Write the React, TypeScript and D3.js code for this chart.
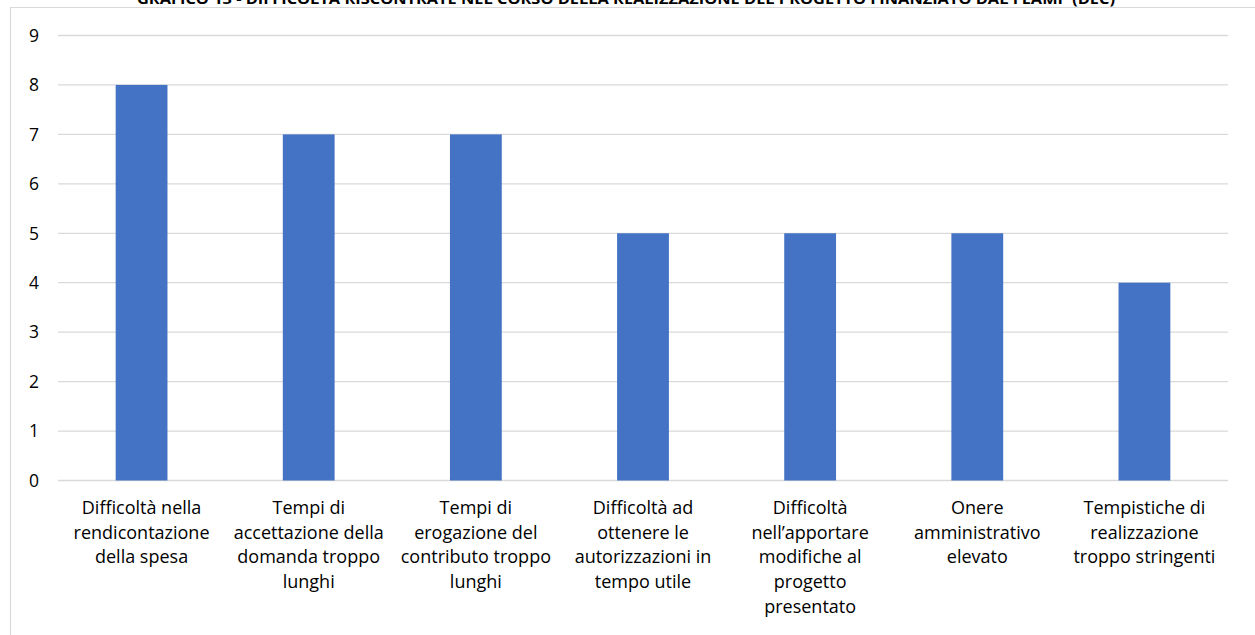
import React from "react";
import * as d3 from "d3";

const title =
  "GRAFICO 13 - DIFFICOLTÀ RISCONTRATE NEL CORSO DELLA REALIZZAZIONE DEL PROGETTO FINANZIATO DAL FEAMP (DEC)";

const categories = [
  "Difficoltà nella\nrendicontazione\ndella spesa",
  "Tempi di\naccettazione della\ndomanda troppo\nlunghi",
  "Tempi di\nerogazione del\ncontributo troppo\nlunghi",
  "Difficoltà ad\nottenere le\nautorizzazioni in\ntempo utile",
  "Difficoltà\nnell’apportare\nmodifiche al\nprogetto\npresentato",
  "Onere\namministrativo\nelevato",
  "Tempistiche di\nrealizzazione\ntroppo stringenti",
];

const values = [8, 7, 7, 5, 5, 5, 4];

const yTicks = [0, 1, 2, 3, 4, 5, 6, 7, 8, 9];

const W = 1255;
const H = 635;
const left = 58;
const right = 1228;
const top = 35.5;
const bottom = 480.5;

const FONT = "'Open Sans', Lato, sans-serif";

export default function App() {
  const x = d3
    .scaleBand<string>()
    .domain(categories)
    .range([left, right])
    .paddingInner(0.69)
    .paddingOuter(0.345);
  const y = d3.scaleLinear().domain([0, 9]).range([bottom, top]);

  return (
    <svg
      width={W}
      height={H}
      style={{ position: "absolute", left: 0, top: 0, background: "#fff" }}
    >
      <rect x={0} y={0} width={W} height={H} fill="#fff" />
      <text
        x={137}
        y={4}
        textLength={978}
        lengthAdjust="spacingAndGlyphs"
        fontFamily={FONT}
        fontWeight="bold"
        fontSize={15}
        fill="#000"
      >
        {title}
      </text>
      <path d={`M10.5,${H} V7.5 H${W}`} fill="none" stroke="#D9D9D9" strokeWidth={1.2} />
      {yTicks.map((t) => (
        <g key={t}>
          <line x1={left} x2={right} y1={y(t)} y2={y(t)} stroke="#D9D9D9" strokeWidth={1.3} />
          <text
            x={39}
            y={y(t)}
            dy="0.36em"
            textAnchor="end"
            fontFamily={FONT}
            fontSize={17.5}
            fill="#000"
          >
            {t}
          </text>
        </g>
      ))}
      {categories.map((c, i) => (
        <rect
          key={c}
          x={x(c)}
          y={y(values[i])}
          width={x.bandwidth()}
          height={y(0) - y(values[i])}
          fill="#4472C4"
        />
      ))}
      {categories.map((c) => {
        const cx = (x(c) as number) + x.bandwidth() / 2;
        return (
          <text
            key={c + "l"}
            x={cx}
            textAnchor="middle"
            fontFamily={FONT}
            fontSize={18}
            fill="#000"
          >
            {c.split("\n").map((line, j) => (
              <tspan key={j} x={cx} y={514 + j * 24.7}>
                {line}
              </tspan>
            ))}
          </text>
        );
      })}
    </svg>
  );
}
